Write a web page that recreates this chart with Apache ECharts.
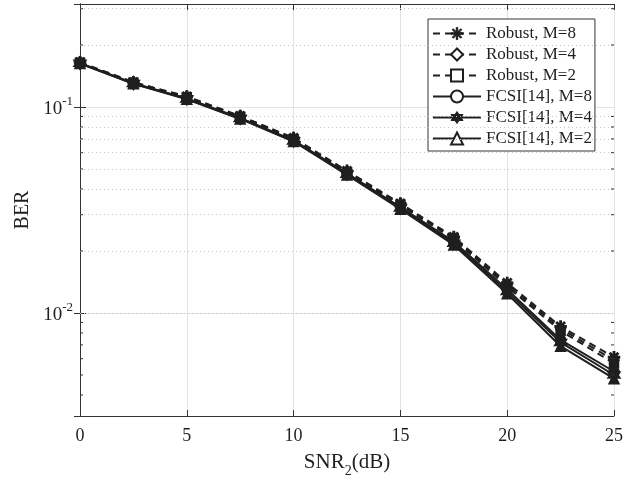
<!DOCTYPE html>
<html>
<head>
<meta charset="utf-8">
<script src="https://cdn.jsdelivr.net/npm/echarts@6/dist/echarts.min.js"></script>
<style>html,body{margin:0;padding:0;background:#fff;}#c{width:642px;height:483px;}</style>
</head>
<body>
<div id="c"></div>
<script>
const snr = [0, 2.5, 5, 7.5, 10, 12.5, 15, 17.5, 20, 22.5, 25];
const robustM8 = [0.165, 0.132, 0.1125, 0.0905, 0.0708, 0.0490, 0.0340, 0.0234, 0.0140, 0.0086, 0.0061];
const robustM4 = [0.164, 0.1315, 0.1120, 0.0900, 0.0703, 0.0486, 0.0337, 0.0231, 0.0137, 0.0084, 0.0059];
const robustM2 = [0.164, 0.1310, 0.1115, 0.0895, 0.0698, 0.0482, 0.0334, 0.0228, 0.0134, 0.0082, 0.0057];
const fcsiM8 = [0.163, 0.1305, 0.1100, 0.0885, 0.0688, 0.0476, 0.0327, 0.0222, 0.0130, 0.0074, 0.0052];
const fcsiM4 = [0.163, 0.1300, 0.1095, 0.0880, 0.0684, 0.0472, 0.0323, 0.0218, 0.0127, 0.0072, 0.0050];
const fcsiM2 = [0.1625, 0.1295, 0.1090, 0.0875, 0.0680, 0.0468, 0.0319, 0.0214, 0.0124, 0.0069, 0.0048];
const seriesNames = ['Robust, M=8', 'Robust, M=4', 'Robust, M=2', 'FCSI[14], M=8', 'FCSI[14], M=4', 'FCSI[14], M=2'];
const seriesValues = [robustM8, robustM4, robustM2, fcsiM8, fcsiM4, fcsiM2];
const xTickValues = [0, 5, 10, 15, 20, 25];
const yMinorTicks = [0.004, 0.005, 0.006, 0.007, 0.008, 0.009, 0.02, 0.03, 0.04, 0.05, 0.06, 0.07, 0.08, 0.09, 0.2, 0.3];
const yMin = Math.pow(10, -2.5), yMax = Math.pow(10, -0.5);
const xMin = xTickValues[0], xMax = xTickValues[xTickValues.length - 1];

const INK = '#1f1f1f';
const FONT = 'Liberation Serif';

const asterisk = 'path://M-1,-0.12L1,-0.12L1,0.12L-1,0.12Z M-0.12,-1L0.12,-1L0.12,1L-0.12,1Z M-0.622,-0.792L0.792,0.622L0.622,0.792L-0.792,-0.622Z M-0.792,0.622L0.622,-0.792L0.792,-0.622L-0.622,0.792Z';
const hexagram = 'path://M0,-1L0.289,-0.5L0.866,-0.5L0.577,0L0.866,0.5L0.289,0.5L0,1L-0.289,0.5L-0.866,0.5L-0.577,0L-0.866,-0.5L-0.289,-0.5Z';
const diamond = 'path://M0,-1L0.8,0L0,1L-0.8,0Z';
const symbols = [asterisk, diamond, 'rect', 'circle', hexagram, 'triangle'];
const openMarker = [false, true, true, true, false, true];
const dashed = [true, true, true, false, false, false];
const symSizes = [11, [10, 12], 9, 10, 12, 10];

const chart = echarts.init(document.getElementById('c'), null, {renderer: 'canvas'});

const lineSeries = seriesNames.map((name, i) => ({
  name: name,
  type: 'line',
  z: 5,
  data: snr.map((x, j) => [x, seriesValues[i][j]]),
  symbol: symbols[i],
  symbolSize: symSizes[i],
  showAllSymbol: true,
  lineStyle: {color: INK, width: 2, type: dashed[i] ? [7, 5] : 'solid'},
  itemStyle: {color: INK, borderColor: INK, borderWidth: 1.5}
}));

const gridSeries = {
  type: 'line',
  name: 'grid',
  data: [],
  z: 1,
  silent: true,
  markLine: {
    silent: true,
    symbol: 'none',
    label: {show: false},
    animation: false,
    lineStyle: {color: '#c4c4c4', type: [1, 3], width: 1},
    data: yMinorTicks.map(v => ({yAxis: v}))
  }
};

const tickSeries = {
  type: 'custom',
  name: 'ticks',
  z: 6,
  silent: true,
  clip: false,
  data: yMinorTicks.map(v => [xMin, v]),
  encode: {x: 0, y: 1},
  renderItem: function (params, api) {
    const v = api.value(1);
    const l = api.coord([xMin, v]);
    const r = api.coord([xMax, v]);
    return {
      type: 'group',
      children: [
        {type: 'line', shape: {x1: l[0], y1: l[1], x2: l[0] + 3, y2: l[1]}, style: {stroke: '#333', lineWidth: 1}},
        {type: 'line', shape: {x1: r[0], y1: r[1], x2: r[0] - 3, y2: r[1]}, style: {stroke: '#333', lineWidth: 1}}
      ]
    };
  }
};

const legendData = seriesNames.map((name, i) => ({
  name: name,
  itemStyle: openMarker[i]
    ? {color: '#ffffff', borderColor: INK, borderWidth: 2}
    : {color: INK, borderColor: INK, borderWidth: 1}
}));

const axisLineStyle = {show: true, lineStyle: {color: '#333', width: 1}};

const option = {
  animation: false,
  backgroundColor: '#ffffff',
  grid: {left: 80, right: 28, top: 4, bottom: 65, containLabel: false},
  legend: {
    orient: 'vertical',
    left: 428,
    top: 19,
    data: legendData,
    itemWidth: 48,
    itemHeight: 15,
    itemGap: 4,
    padding: [6, 3, 4, 4],
    backgroundColor: '#ffffff',
    borderColor: '#333',
    borderWidth: 1,
    borderRadius: 0,
    selectedMode: false,
    textStyle: {fontFamily: FONT, fontSize: 17, color: INK}
  },
  xAxis: [{
    type: 'value',
    min: xMin, max: xMax, interval: 5,
    position: 'bottom',
    axisLine: axisLineStyle,
    axisTick: {show: true, inside: true, length: 6, lineStyle: {color: '#333'}},
    axisLabel: {margin: 11, fontFamily: FONT, fontSize: 18, color: INK},
    splitLine: {show: true, lineStyle: {color: '#e3e3e3', width: 1}},
    name: '{a|SNR}{sub|2}{a|(dB)}',
    nameLocation: 'middle',
    nameGap: 36,
    nameTextStyle: {
      fontFamily: FONT, color: INK,
      rich: {
        a: {fontFamily: FONT, fontSize: 21, color: INK, lineHeight: 22, verticalAlign: 'top'},
        sub: {fontFamily: FONT, fontSize: 14, color: INK, lineHeight: 14, padding: [12, 0, 0, 0], verticalAlign: 'top'}
      }
    }
  }, {
    type: 'value',
    min: xMin, max: xMax, interval: 5,
    position: 'top',
    axisLine: axisLineStyle,
    axisTick: {show: true, inside: true, length: 6, lineStyle: {color: '#333'}},
    axisLabel: {show: false},
    splitLine: {show: false}
  }],
  yAxis: [{
    type: 'log',
    logBase: 10,
    min: yMin, max: yMax,
    position: 'left',
    axisLine: axisLineStyle,
    axisTick: {show: true, inside: true, length: 6, lineStyle: {color: '#333'}},
    axisLabel: {
      margin: 7,
      fontFamily: FONT,
      color: INK,
      formatter: function (v) {
        const e = Math.log10(v);
        if (Math.abs(e - Math.round(e)) > 1e-6) return '';
        return '{b|10}{s|' + Math.round(e) + '}';
      },
      rich: {
        b: {fontFamily: FONT, fontSize: 19, color: INK, lineHeight: 24, verticalAlign: 'bottom'},
        s: {fontFamily: FONT, fontSize: 13, color: INK, lineHeight: 13, verticalAlign: 'top'}
      }
    },
    splitLine: {show: true, lineStyle: {color: '#e3e3e3', width: 1}},
    name: 'BER',
    nameLocation: 'middle',
    nameGap: 45,
    nameRotate: 90,
    nameTextStyle: {fontFamily: FONT, fontSize: 20, color: INK}
  }, {
    type: 'log',
    logBase: 10,
    min: yMin, max: yMax,
    position: 'right',
    axisLine: axisLineStyle,
    axisTick: {show: true, inside: true, length: 6, lineStyle: {color: '#333'}},
    axisLabel: {show: false},
    splitLine: {show: false}
  }],
  series: [gridSeries, tickSeries].concat(lineSeries)
};
chart.setOption(option);
</script>
</body>
</html>
